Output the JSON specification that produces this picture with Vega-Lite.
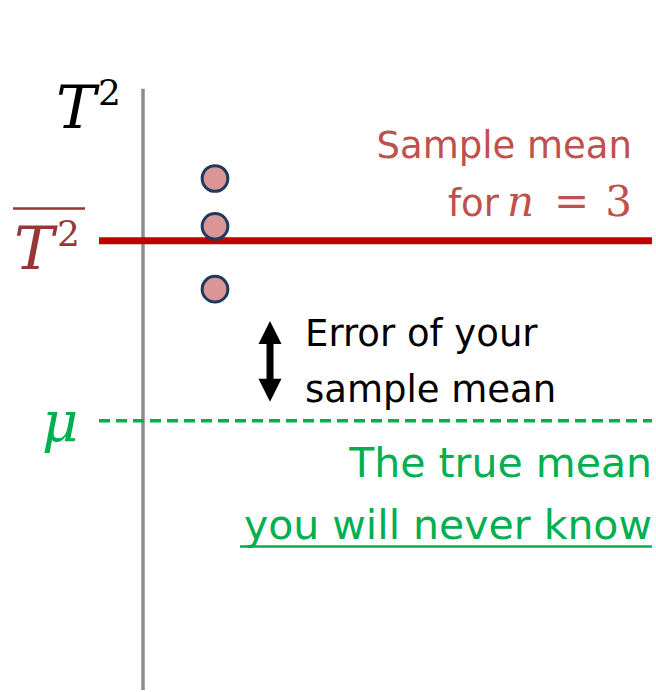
{
  "$schema": "https://vega.github.io/schema/vega-lite/v6.json",
  "width": 656,
  "height": 692,
  "autosize": {"type": "fit", "contains": "padding"},
  "padding": 0,
  "background": "white",
  "config": {"view": {"stroke": null}},
  "datasets": {
    "axisLine": [{"x": 143, "y": 89, "x2": 143, "y2": 692}],
    "meanLine": [{"x": 99, "y": 241.5, "x2": 652, "y2": 241.5}],
    "trueLine": [{"x": 99, "y": 422, "x2": 652, "y2": 422}],
    "overline": [{"x": 13, "y": 209, "x2": 85, "y2": 209}],
    "underline": [{"x": 240, "y": 548, "x2": 652, "y2": 548}],
    "shaft": [{"x": 270, "y": 343, "x2": 270, "y2": 382}],
    "headUp": [{"x": 270, "y": 333.5}],
    "headDown": [{"x": 270, "y": 391.5}],
    "samples": [{"x": 215, "y": 179}, {"x": 215, "y": 227}, {"x": 215, "y": 290}],
    "tBig": [{"x": 56, "y": 128, "label": "T"}],
    "tSup": [{"x": 98, "y": 105, "label": "2"}],
    "tBarBig": [{"x": 14, "y": 270, "label": "T"}],
    "tBarSup": [{"x": 57, "y": 247, "label": "2"}],
    "mu": [{"x": 42, "y": 442, "label": "μ"}],
    "redText": [{"x": 632, "y": 158, "label": "Sample mean"}],
    "forText": [{"x": 448, "y": 217, "label": "for"}],
    "nText": [{"x": 507, "y": 217, "label": "n"}],
    "eqText": [{"x": 554, "y": 217, "label": "="}],
    "threeText": [{"x": 632, "y": 217, "label": "3"}],
    "blackText": [{"x": 305, "y": 347, "label": "Error of your"}, {"x": 305, "y": 403, "label": "sample mean"}],
    "greenText": [{"x": 652, "y": 478, "label": "The true mean"}, {"x": 652, "y": 541, "label": "you will never know"}]
  },
  "encoding": {
    "x": {"field": "x", "type": "quantitative", "axis": null, "scale": {"domain": [0, 656], "nice": false, "zero": false}},
    "y": {"field": "y", "type": "quantitative", "axis": null, "scale": {"domain": [0, 692], "nice": false, "zero": false, "reverse": true}}
  },
  "layer": [
    {"data": {"name": "axisLine"}, "mark": {"type": "rule", "color": "#8c8c8c", "strokeWidth": 3.5}, "encoding": {"x2": {"field": "x2"}, "y2": {"field": "y2"}}},
    {"data": {"name": "meanLine"}, "mark": {"type": "rule", "color": "#C00000", "strokeWidth": 7}, "encoding": {"x2": {"field": "x2"}, "y2": {"field": "y2"}}},
    {"data": {"name": "trueLine"}, "mark": {"type": "rule", "color": "#00B050", "strokeWidth": 3.5, "strokeDash": [11, 6]}, "encoding": {"x2": {"field": "x2"}, "y2": {"field": "y2"}}},
    {"data": {"name": "overline"}, "mark": {"type": "rule", "color": "#953735", "strokeWidth": 2.5}, "encoding": {"x2": {"field": "x2"}, "y2": {"field": "y2"}}},
    {"data": {"name": "underline"}, "mark": {"type": "rule", "color": "#00B050", "strokeWidth": 2.5}, "encoding": {"x2": {"field": "x2"}, "y2": {"field": "y2"}}},
    {"data": {"name": "shaft"}, "mark": {"type": "rule", "color": "black", "strokeWidth": 7}, "encoding": {"x2": {"field": "x2"}, "y2": {"field": "y2"}}},
    {"data": {"name": "headUp"}, "mark": {"type": "point", "shape": "M0,-1L1,1L-1,1Z", "filled": true, "color": "black", "size": 529, "opacity": 1}},
    {"data": {"name": "headDown"}, "mark": {"type": "point", "shape": "M0,1L1,-1L-1,-1Z", "filled": true, "color": "black", "size": 529, "opacity": 1}},
    {"data": {"name": "samples"}, "mark": {"type": "point", "shape": "circle", "filled": true, "fill": "#D99694", "stroke": "#1F3A5F", "strokeWidth": 3, "size": 660, "opacity": 1, "fillOpacity": 1, "strokeOpacity": 1}},
    {"data": {"name": "tBig"}, "mark": {"type": "text", "font": "DejaVu Serif", "fontStyle": "italic", "fontSize": 60, "align": "left", "baseline": "alphabetic", "color": "black"}, "encoding": {"text": {"field": "label"}}},
    {"data": {"name": "tSup"}, "mark": {"type": "text", "font": "DejaVu Serif", "fontSize": 36, "align": "left", "baseline": "alphabetic", "color": "black"}, "encoding": {"text": {"field": "label"}}},
    {"data": {"name": "tBarBig"}, "mark": {"type": "text", "font": "DejaVu Serif", "fontStyle": "italic", "fontSize": 60, "align": "left", "baseline": "alphabetic", "color": "#953735"}, "encoding": {"text": {"field": "label"}}},
    {"data": {"name": "tBarSup"}, "mark": {"type": "text", "font": "DejaVu Serif", "fontSize": 36, "align": "left", "baseline": "alphabetic", "color": "#953735"}, "encoding": {"text": {"field": "label"}}},
    {"data": {"name": "mu"}, "mark": {"type": "text", "font": "DejaVu Serif", "fontStyle": "italic", "fontSize": 56, "align": "left", "baseline": "alphabetic", "color": "#00B050"}, "encoding": {"text": {"field": "label"}}},
    {"data": {"name": "redText"}, "mark": {"type": "text", "font": "DejaVu Sans", "fontSize": 37, "align": "right", "baseline": "alphabetic", "color": "#C0504D"}, "encoding": {"text": {"field": "label"}}},
    {"data": {"name": "forText"}, "mark": {"type": "text", "font": "DejaVu Sans", "fontSize": 37, "align": "left", "baseline": "alphabetic", "color": "#C0504D"}, "encoding": {"text": {"field": "label"}}},
    {"data": {"name": "nText"}, "mark": {"type": "text", "font": "DejaVu Serif", "fontStyle": "italic", "fontSize": 42, "align": "left", "baseline": "alphabetic", "color": "#C0504D"}, "encoding": {"text": {"field": "label"}}},
    {"data": {"name": "eqText"}, "mark": {"type": "text", "font": "DejaVu Serif", "fontSize": 42, "align": "left", "baseline": "alphabetic", "color": "#C0504D"}, "encoding": {"text": {"field": "label"}}},
    {"data": {"name": "threeText"}, "mark": {"type": "text", "font": "DejaVu Serif", "fontSize": 42, "align": "right", "baseline": "alphabetic", "color": "#C0504D"}, "encoding": {"text": {"field": "label"}}},
    {"data": {"name": "blackText"}, "mark": {"type": "text", "font": "DejaVu Sans", "fontSize": 37, "align": "left", "baseline": "alphabetic", "color": "black"}, "encoding": {"text": {"field": "label"}}},
    {"data": {"name": "greenText"}, "mark": {"type": "text", "font": "DejaVu Sans", "fontSize": 41, "align": "right", "baseline": "alphabetic", "color": "#00B050"}, "encoding": {"text": {"field": "label"}}}
  ]
}
